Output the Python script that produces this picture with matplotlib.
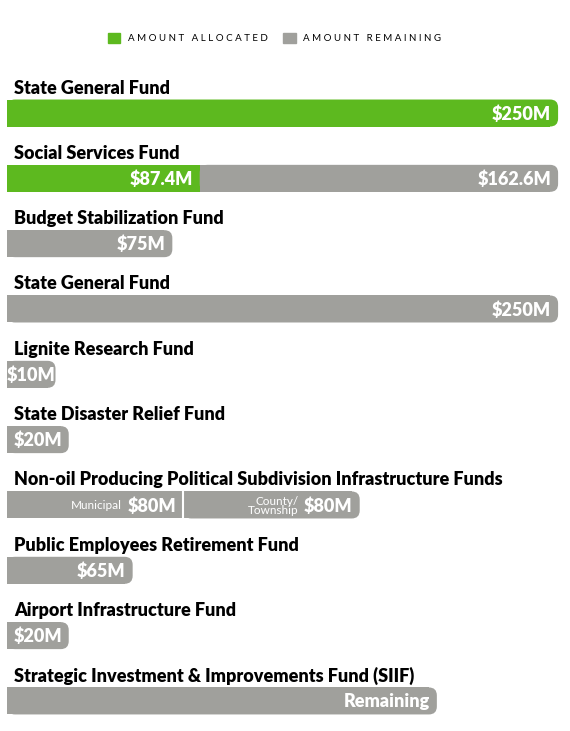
import matplotlib.pyplot as plt
from matplotlib.patches import FancyBboxPatch, Patch

# Fund names, top to bottom
funds = [
    "State General Fund",
    "Social Services Fund",
    "Budget Stabilization Fund",
    "State General Fund",
    "Lignite Research Fund",
    "State Disaster Relief Fund",
    "Non-oil Producing Political Subdivision Infrastructure Funds",
    "Public Employees Retirement Fund",
    "Airport Infrastructure Fund",
    "Strategic Investment & Improvements Fund (SIIF)",
]

# amounts in $M (bar lengths as drawn in the picture)
allocated = [250, 87.4, 0, 0, 0, 0, 0, 0, 0, 0]
remaining = [0, 162.6, 75, 250, 22, 28, 160, 57, 28, 195]
alloc_labels = ["$250M", "$87.4M", "", "", "", "", "", "", "", ""]
remain_labels = ["", "$162.6M", "$75M", "$250M", "$10M", "$20M", "$80M", "$65M", "$20M", "Remaining"]

# the non-oil row is split in two equal parts
split_parts = [80, 80]
split_names = ["Municipal", "County/\nTownship"]
split_labels = ["$80M", "$80M"]

GREEN = "#5db91f"
GRAY = "#a0a09c"
FONT = "Lato"

W, H = 570, 731
fig = plt.figure(figsize=(W / 100, H / 100), dpi=100)
ax = fig.add_axes([0, 0, 1, 1])
ax.set_xlim(-3.18, 255.4)
ax.set_ylim(9.46, -1.73)
ax.axis("off")

px_x = (255.4 + 3.18) / W
px_y = (9.46 + 1.73) / H
bar_h = 27 * px_y
rad = 8 * px_x


def draw_bar(row, left, width, color, round_end):
    if round_end:
        ax.barh(row, width - rad, left=left, height=bar_h, color=color, lw=0)
        cap = FancyBboxPatch((left, row - bar_h / 2), width, bar_h,
                             boxstyle=f"round,pad=0,rounding_size={rad}",
                             mutation_aspect=px_y / px_x, fc=color, ec="none")
        ax.add_patch(cap)
    else:
        ax.barh(row, width, left=left, height=bar_h, color=color, lw=0)


def value_text(left, end, row, s, size=13):
    if end - left < 32:
        x, ha = (left + end) / 2, "center"
    else:
        x, ha = end - 7 * px_x, "right"
    ax.text(x, row + 1 * px_y, s, color="white", fontsize=size,
            fontweight="heavy", family=FONT, ha=ha, va="center")


for i, name in enumerate(funds):
    ax.text(7 * px_x, i - bar_h / 2 - 6 * px_y, name, fontsize=13,
            fontweight="heavy", family=FONT, ha="left", va="baseline")

    a, r = allocated[i], remaining[i]
    if i == 6:
        left = 0
        for k, part in enumerate(split_parts):
            draw_bar(i, left, part, GRAY, k == len(split_parts) - 1)
            end = left + part
            value_text(left, end, i, split_labels[k])
            ax.text(end - 61 * px_x, i + 1 * px_y, split_names[k], color="white",
                    fontsize=8.5, family=FONT, ha="right", va="center",
                    linespacing=0.85)
            left = end
        ax.plot([split_parts[0]] * 2, [i - bar_h / 2, i + bar_h / 2],
                color="white", lw=1.5)
        continue
    if a > 0:
        draw_bar(i, 0, a, GREEN, r == 0)
        value_text(0, a, i, alloc_labels[i])
    if r > 0:
        draw_bar(i, a, r, GRAY, True)
        value_text(a, a + r, i, remain_labels[i])

handles = [Patch(color=GREEN), Patch(color=GRAY)]
fig.legend(handles, ["A M O U N T   A L L O C A T E D", "A M O U N T   R E M A I N I N G"],
           loc="center", bbox_to_anchor=(0.482, 1 - 38 / H), ncol=2, frameon=False,
           handlelength=1.25, handleheight=1.25, handletextpad=0.8, columnspacing=1.6,
           prop={"family": FONT, "size": 7.0})

fig.savefig("out.png", dpi=100, facecolor="white")
